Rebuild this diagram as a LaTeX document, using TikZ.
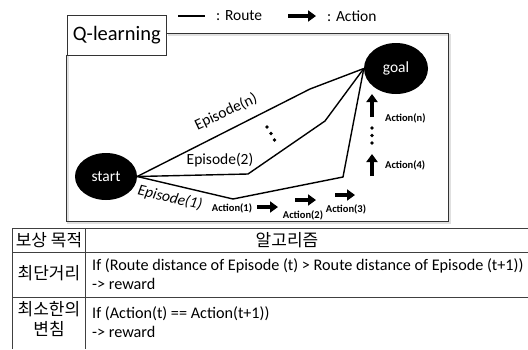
\documentclass[tikz,border=0pt]{standalone}
\usepackage{fontspec}
\setmainfont{Carlito}
\newfontfamily\kr{Noto Sans CJK KR}
\usetikzlibrary{shapes.geometric,arrows.meta}
\begin{document}
\begin{tikzpicture}[x=1pt,y=-1pt,
  blob/.style={ellipse,fill=black,text=white,inner sep=0pt,font=\fontsize{15.5}{17}\selectfont},
  route/.style={line width=1.4pt,line join=miter},
  act/.style={line width=4.6pt,-{Triangle[length=8pt,width=11pt]}},
  actlbl/.style={font=\fontsize{10.5}{12}\selectfont\bfseries,inner sep=0pt},
  lbl/.style={font=\fontsize{15.5}{17}\selectfont,inner sep=0pt},
  tbl/.style={line width=1pt,draw=black!75},
  ktxt/.style={font=\kr\fontsize{17}{19}\selectfont,inner sep=0pt},
  ttxt/.style={font=\fontsize{16.2}{18}\selectfont,inner sep=0pt,anchor=west},
  dot/.style={circle,fill=black,inner sep=0pt,minimum size=3.6pt}]
\useasboundingbox (0,0) rectangle (528,349);
\clip (0,0) rectangle (528,349);
% legend
\coordinate (lr1) at (178,16);
\coordinate (lr2) at (205,16);
\draw[line width=1.4pt] (lr1) -- (lr2);
\node[lbl,anchor=west] (lroute) at (216,16) {: Route};
\coordinate (la1) at (288,16);
\coordinate (la2) at (316,16);
\draw[act] (la1) -- (la2);
\node[lbl,anchor=west] (laction) at (327,16) {: Action};
% frame
\draw[line width=2pt,black!12] (68,56) -- (68,223) -- (450,223) -- (450,35) -- (168,35);
\draw[line width=1.4pt,black!80] (66.5,54.5) -- (66.5,221.5) -- (448.5,221.5) -- (448.5,33.5) -- (166,33.5);
\node[draw=black!80,line width=1.2pt,minimum width=99.5pt,minimum height=40pt,inner sep=0pt,anchor=north west,font=\fontsize{20.5}{22}\selectfont] (q) at (66.5,14.5) {Q-learning};
% nodes
\node[blob,minimum width=64pt,minimum height=51pt] (goal) at (396,68.5) {goal};
\node[blob,minimum width=62pt,minimum height=47pt] (start) at (106,176.5) {start};
% routes
\draw[route] (start.east) -- (310,89) -- (goal.west);
\draw[route] (start.east) -- (248,174) -- (325,121) -- (goal.west);
\draw[route] (start.east) -- (233,199) -- (343,177) -- (goal.west);
\node[lbl,rotate=25] (epn) at (226,112) {Episode(n)};
\node[lbl] (ep2) at (220,160) {Episode(2)};
\node[lbl,rotate=-13,font=\fontsize{15.5}{17}\selectfont\itshape] (ep1) at (170,198) {Episode(1)};
% dots
\node[dot] (d1) at (267,127) {};
\node[dot] (d2) at (271,133.5) {};
\node[dot] (d3) at (274.5,140) {};
\node[dot] (v1) at (372,128) {};
\node[dot] (v2) at (372,135.5) {};
\node[dot] (v3) at (372,143) {};
% actions
\coordinate (an1) at (372,117); \coordinate (an2) at (372,94);
\draw[act] (an1) -- (an2);
\coordinate (a41) at (372,176); \coordinate (a42) at (372,154);
\draw[act] (a41) -- (a42);
\coordinate (a11) at (257,207); \coordinate (a12) at (278,207);
\draw[act] (a11) -- (a12);
\coordinate (a21) at (295,200); \coordinate (a22) at (316,200);
\draw[act] (a21) -- (a22);
\coordinate (a31) at (335,195); \coordinate (a32) at (355,195);
\draw[act] (a31) -- (a32);
\node[actlbl,anchor=west] (lan) at (385,118) {Action(n)};
\node[actlbl,anchor=west] (la4) at (385,165) {Action(4)};
\node[actlbl] (la1t) at (232,208) {Action(1)};
\node[actlbl] (la2t) at (303,215) {Action(2)};
\node[actlbl] (la3t) at (346,209) {Action(3)};
% table
\draw[tbl] (12.5,349) -- (12.5,228) -- (528,228);
\draw[tbl] (85.5,228) -- (85.5,349);
\draw[tbl] (12.5,252) -- (528,252);
\draw[tbl] (12.5,297) -- (528,297);
\node[ktxt] (h1) at (49,240) {보상 목적};
\node[ktxt] (h2) at (287,240) {알고리즘};
\node[ktxt] (r1) at (49,273) {최단거리};
\node[ktxt] (r2a) at (49,309) {최소한의};
\node[ktxt] (r2b) at (49,329) {변침};
\node[ttxt] (t1a) at (92,266) {If (Route distance of Episode (t) > Route distance of Episode (t+1))};
\node[ttxt] (t1b) at (92,284) {-> reward};
\node[ttxt] (t2a) at (92,314) {If (Action(t) == Action(t+1))};
\node[ttxt] (t2b) at (92,332) {-> reward};
\end{tikzpicture}
\end{document}
